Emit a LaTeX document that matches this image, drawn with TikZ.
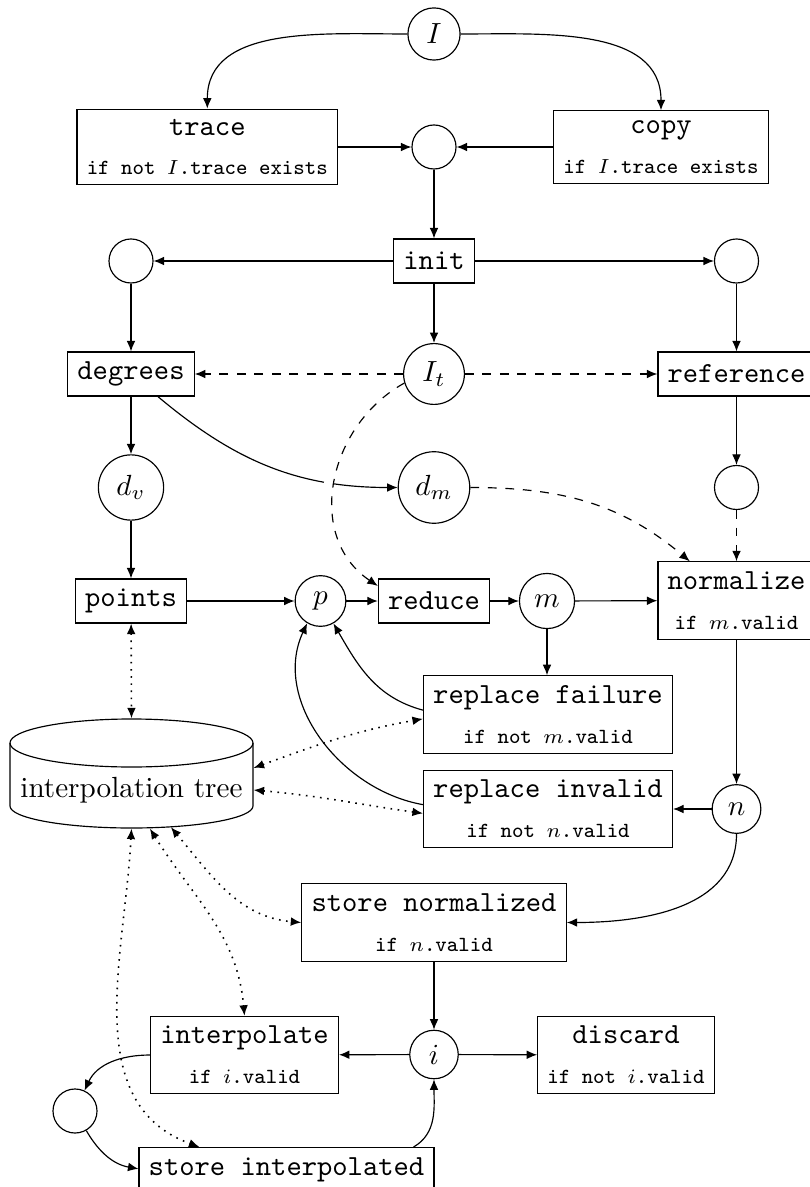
\documentclass[tikz,border=0pt]{standalone}
\usetikzlibrary{arrows.meta}
\newcommand{\condtext}[1]{{\fontsize{7.4pt}{9pt}\selectfont #1}}
\begin{document}
\begin{tikzpicture}[x=0.343pt, y=0.343pt,
  >={Latex[length=3.6pt,width=3pt]},
  box/.style={draw, rectangle, font=\ttfamily, align=center, inner sep=3.33pt, minimum height=15.1pt},
  circ/.style={draw, circle, inner sep=3.33pt, minimum size=15.1pt},
  arr/.style={->},
  darr/.style={->, dashed},
  tarr/.style={<->, line width=0.55pt, dash pattern=on 0.55pt off 1.9pt},
]
\useasboundingbox (0,0) rectangle (810,-1187);
\clip (0,0) rectangle (810,-1187);

% nodes
\node[circ] (I) at (434,-34) {$I$};
\node[box] (trace) at (207.3,-147) {trace\\[1.7pt]\condtext{if not $I$.trace exists}};
\node[box] (copy) at (661,-147) {copy\\[1.7pt]\condtext{if $I$.trace exists}};
\node[circ] (c1) at (434,-147) {};
\node[box] (init) at (434,-261) {init};
\node[circ] (cL) at (131,-261) {};
\node[circ] (cR) at (736.5,-261) {};
\node[box] (degrees) at (131,-374) {degrees};
\node[circ] (It) at (434,-374) {$I_t$};
\node[box] (reference) at (736.5,-374) {reference};
\node[circ] (dv) at (131,-487.5) {$d_v$};
\node[circ] (dm) at (434,-487.5) {$d_m$};
\node[circ] (cR2) at (736.5,-487.5) {};
\node[box] (points) at (131,-601) {points};
\node[circ] (p) at (320.5,-601) {$p$};
\node[box] (reduce) at (434,-601) {reduce};
\node[circ] (m) at (547,-601) {$m$};
\node[box] (normalize) at (736.5,-600.5) {normalize\\[1.7pt]\condtext{if $m$.valid}};
\node[box] (rf) at (548,-714.5) {replace failure\\[1.7pt]\condtext{if not $m$.valid}};
\node[box] (ri) at (548,-809) {replace invalid\\[1.7pt]\condtext{if not $n$.valid}};
\node[circ] (n) at (736.5,-809) {$n$};
\node[box] (sn) at (434,-922.5) {store normalized\\[1.7pt]\condtext{if $n$.valid}};
\node[circ] (i) at (434,-1054.5) {$i$};
\node[box] (interp) at (244.5,-1055) {interpolate\\[1.7pt]\condtext{if $i$.valid}};
\node[box] (discard) at (626,-1055) {discard\\[1.7pt]\condtext{if not $i$.valid}};
\node[circ] (cI) at (75,-1111) {};
\node[box, anchor=north, text depth=25pt] (si) at (286.5,-1147) {store interpolated};

% interpolation tree (cylinder)
\node[inner sep=0pt, minimum width=83.35pt, minimum height=37.4pt] (tree) at (131.5,-773.5) {};
\draw (10,-743) -- (10,-806) arc[start angle=180, end angle=360, x radius=121.5, y radius=22] -- (253,-743);
\draw (131.5,-743) ellipse [x radius=121.5, y radius=24];
\node (treetext) at (131.5,-790.7) {interpolation tree};

% connectors
\draw[arr] (I) to[out=180,in=90] (trace);
\draw[arr] (I) to[out=0,in=90] (copy);
\draw[arr] (trace) -- (c1);
\draw[arr] (copy) -- (c1);
\draw[arr] (c1) -- (init);
\draw[arr] (init) -- (cL);
\draw[arr] (init) -- (cR);
\draw[arr] (init) -- (It);
\draw[arr] (cL) -- (degrees);
\draw[arr] (cR) -- (reference);
\draw[darr] (It) -- (degrees);
\draw[darr] (It) -- (reference);
\draw[arr] (degrees) -- (dv);
\draw[arr] (degrees) to[out=-40,in=180] (dm);
\draw[arr] (reference) -- (cR2);
\draw[darr] (cR2) -- (normalize);
\draw[darr] (dm) to[out=0,in=140] (normalize);
\draw[darr, preaction={draw=white, solid, line width=3pt, -, shorten <=10pt, shorten >=10pt}] (It.197) to[out=209,in=146,looseness=1.1] (reduce.165);
\draw[arr] (dv) -- (points);
\draw[arr] (points) -- (p);
\draw[arr] (p) -- (reduce);
\draw[arr] (reduce) -- (m);
\draw[arr] (m) -- (normalize);
\draw[arr] (m) -- (m |- rf.north);
\draw[arr] (normalize) -- (n);
\draw[arr] (n) -- (ri);
\draw[arr] ([yshift=1.5pt]rf.west) to[out=165,in=-60] (p);
\draw[arr] ([yshift=1.5pt]ri.west) to[out=170,in=-115] (p.-121);
\draw[tarr] (points) -- (tree.north);
\draw[tarr] ([yshift=1.9pt]tree.east) to[out=20,in=190] ([yshift=-1.5pt]rf.west);
\draw[tarr] ([yshift=-5.66pt]tree.east) to[out=-5,in=172] ([yshift=-1.5pt]ri.west);
\draw[arr] (n) to[out=-90,in=0] (sn);
\draw[tarr] ([xshift=13.5pt,yshift=0.5pt]tree.south) to[out=-50,in=175] (sn.west);
\draw[tarr] ([xshift=6.3pt]tree.south) to[out=-58,in=95] (interp.north);
\draw[tarr] (tree.south) to[out=-93,in=160] ([xshift=20.9pt]si.north west);
\draw[arr] (sn) -- (i);
\draw[arr] (i) -- (interp);
\draw[arr] (i) -- (discard);
\draw[arr] (interp.west) to[out=180,in=65] (cI);
\draw[arr] (cI) to[out=-60,in=170] (si.mid west);
\draw[arr] ([xshift=-7.2pt]si.north east) to[out=30,in=-90] (i);
\end{tikzpicture}
\end{document}
